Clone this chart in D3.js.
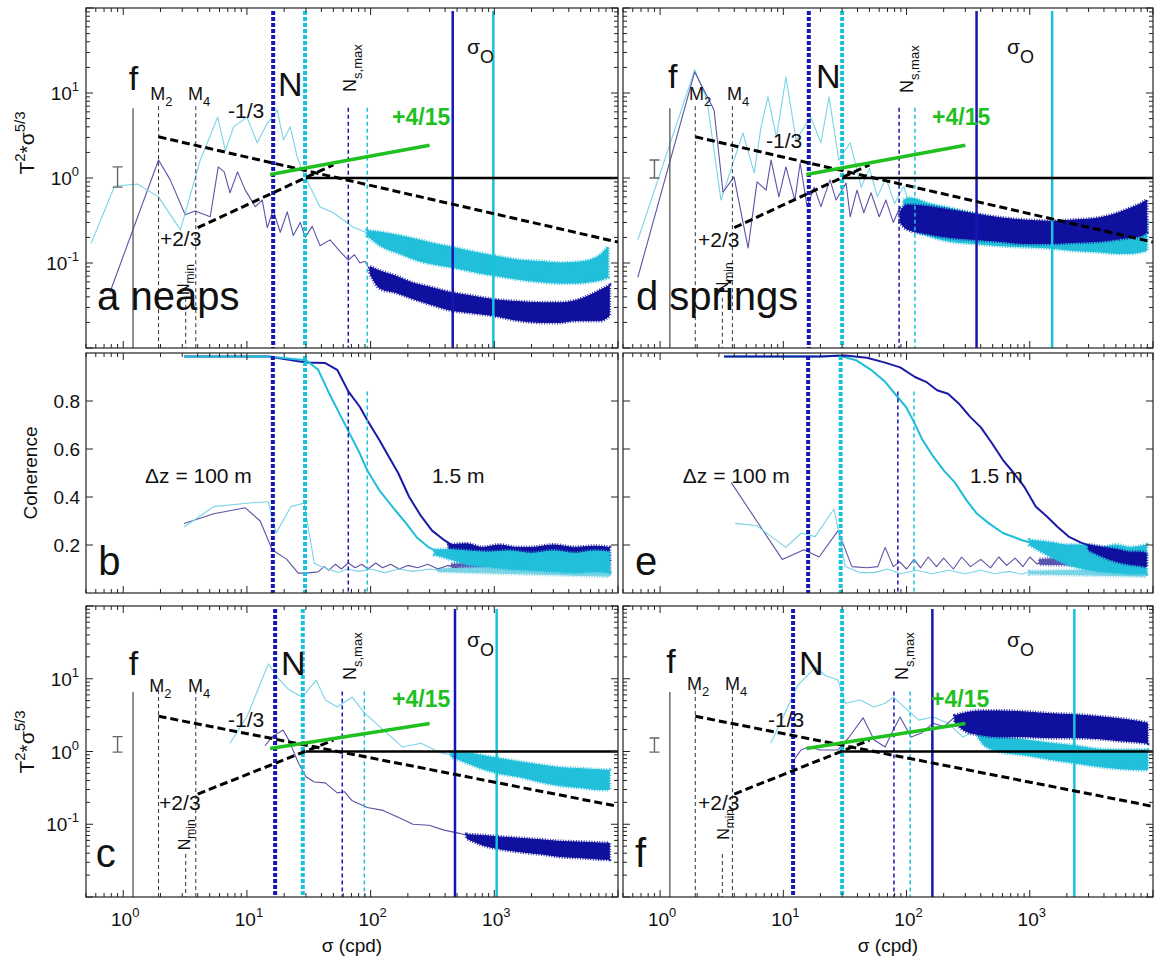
<!DOCTYPE html>
<html><head><meta charset="utf-8">
<script src="https://cdn.jsdelivr.net/npm/d3@7"></script>
<style>body{margin:0;background:#fff}svg{font-family:"Liberation Sans",Arial,sans-serif}</style>
</head><body><svg id="chart" width="1157" height="962"></svg>
<script>
// ---------------- axes / ticks ----------------
const sigmaDomain = [0.5, 10000];
const spectrumDomain = [0.01, 100];
const coherenceDomain = [0, 1];
const sigmaTickValues = [1, 10, 100, 1000];
const sigmaTickExponents = ["0", "1", "2", "3"];
const spectrumTickValues = [10, 1, 0.1];
const spectrumTickExponents = ["1", "0", "-1"];
const coherenceTickValues = [0.2, 0.4, 0.6, 0.8];
const coherenceTickLabels = ["0.2", "0.4", "0.6", "0.8"];

// ---------------- marker frequencies (cpd), panels a..f ----------------
const panelIds = ["a", "b", "c", "d", "e", "f"];
const coriolisFreq = 1.2;
const m2Freq = 1.93;
const m4Freq = 3.86;
const nMinFreq = 3.2;
const nDarkFreq = [16.3, 16.2, 16.9, 16.1, 15.9, 12.0];
const nCyanFreq = [29.5, 29.5, 28.3, 30.0, 29.2, 30.0];
const nsMaxDarkFreq = [66, 66, 59, 87, 85, 79];
const nsMaxCyanFreq = [94, 94, 89, 117, 115, 107];
const sigmaODarkFreq = [461, null, 481, 370, null, 162];
const sigmaOCyanFreq = [982, null, 1045, 1520, null, 2300];
const fLineTop = 6.6, tideLineTop = 7.0, nsLineTop = 6.7, nMinLineTop = 0.039, cohNsLineTop = 0.84;

// ---------------- reference slopes [sigma, value] ----------------
const slopeMinusThird = [[1.93, 3.05], [10000, 0.176]];
const slopePlusTwoThirds = [[4.0, 0.26], [50, 1.43]];
const slopePlusFourFifteenths = [[15.4, 1.1], [300, 2.43]];
const unityLine = [[30, 1], [10000, 1]];
// error bars [sigma, low, high]
const aErr = [0.9, 0.78, 1.35];
const cErr = [0.9, 0.98, 1.6];
const dErr = [0.9, 1.0, 1.63];
const fErr = [0.9, 0.98, 1.53];

// ---------------- panel a (neaps spectra) ----------------
const aDarkThin = [[0.78,0.045],[1.93,1.63],[2.4,0.95],[3.17,0.37],[3.82,0.41],[5.05,0.35],[5.86,1.35],[6.55,1.18],[7.3,0.67],[8.4,1.18],[9.7,0.72],[11.7,0.46],[13.3,0.55],[14.6,0.26],[16.3,0.42],[18.6,0.23],[21.2,0.4],[23.7,0.21],[27,0.3],[29.6,0.2],[33.7,0.27],[39,0.16],[47,0.187],[57,0.135],[66,0.108],[74,0.125],[82,0.1],[90,0.105],[99,0.082],[110,0.07]];
const aDarkBand = [[99,0.075,0.09],[120,0.05,0.08],[160,0.045,0.07],[220,0.038,0.058],[300,0.033,0.052],[440,0.028,0.045],[650,0.026,0.041],[1000,0.024,0.037],[1600,0.021,0.035],[2500,0.02,0.034],[3400,0.02,0.034],[4500,0.021,0.036],[6000,0.021,0.042],[7200,0.021,0.048],[8500,0.024,0.054]];
const aCyanThin = [[0.55,0.17],[0.85,0.8],[1.3,0.85],[1.93,0.6],[2.9,0.245],[4.2,1.63],[5.8,5.2],[6.7,2.1],[7.8,4.0],[10,5.2],[12.1,2.6],[14.6,4.4],[17.6,6.3],[19.7,2.8],[22.4,4.0],[25.5,1.77],[28.5,1.15],[32.5,0.78],[39,0.456],[50,0.39],[60,0.32],[72,0.265],[94,0.225],[110,0.2]];
const aCyanBand = [[94,0.21,0.24],[120,0.16,0.23],[170,0.13,0.21],[252,0.105,0.185],[350,0.095,0.165],[440,0.09,0.155],[600,0.082,0.14],[770,0.076,0.13],[1100,0.07,0.118],[1600,0.064,0.108],[2400,0.06,0.104],[3400,0.058,0.1],[4600,0.058,0.102],[5900,0.06,0.108],[7200,0.063,0.125],[8300,0.068,0.155]];

// ---------------- panel c (neaps spectra, second record) ----------------
const cDarkThin = [[14,1.2],[16,1.6],[19.6,1.97],[22,1.4],[26,0.7],[30,0.45],[35,0.38],[43,0.37],[53.7,0.27],[61.4,0.28],[71,0.21],[94,0.17],[126,0.155],[167,0.125],[220,0.1],[296,0.097],[394,0.083],[522,0.075],[700,0.066]];
const cDarkBand = [[600,0.064,0.072],[800,0.052,0.07],[1100,0.046,0.067],[1600,0.042,0.064],[2400,0.039,0.061],[3400,0.036,0.058],[4600,0.035,0.057],[6000,0.034,0.056],[7500,0.033,0.055],[8500,0.033,0.055]];
const cCyanThin = [[7.3,1.3],[10,3],[14.9,16],[18,10],[22,7],[28,5.6],[36.3,9.6],[43,5.1],[53.7,4.1],[71,5.6],[89,3.4],[126,2.0],[181,1.15],[256,1.3],[366,0.96],[522,0.85]];
const cCyanBand = [[450,0.85,0.95],[600,0.7,0.95],[800,0.58,0.88],[1100,0.5,0.8],[1600,0.45,0.72],[2400,0.38,0.65],[3400,0.34,0.6],[5000,0.32,0.58],[7000,0.3,0.56],[8500,0.3,0.55]];

// ---------------- panel d (springs spectra) ----------------
const dDarkThin = [[0.66,0.068],[1.91,17.7],[2.74,6.3],[3.24,0.68],[3.98,1.03],[5.18,0.15],[6.12,0.9],[7.25,0.72],[7.95,1.63],[9.2,0.6],[10.5,1.35],[12.4,0.55],[13.7,1.5],[15.6,0.46],[17.8,0.78],[20.2,0.46],[23.9,0.95],[26.8,0.55],[32.3,0.87],[34.9,0.35],[39.6,0.72],[45,0.39],[51.5,0.67],[60,0.35],[68,0.55],[78,0.3],[88.7,0.46],[101,0.3]];
const dDarkBand = [[88.7,0.3,0.4],[101,0.25,0.48],[150,0.22,0.46],[226,0.2,0.42],[350,0.19,0.38],[574,0.18,0.34],[900,0.17,0.32],[1460,0.17,0.31],[2300,0.175,0.32],[3700,0.18,0.34],[5000,0.19,0.38],[6500,0.2,0.44],[8000,0.21,0.5],[8900,0.23,0.55]];
const dCyanThin = [[0.66,0.187],[1.91,18.7],[2.4,8.3],[3.12,0.55],[4.7,3.4],[5.8,1.15],[6.6,4],[7.5,9],[8.8,3],[10.5,15.4],[12.7,2.8],[16.7,5.2],[20.2,2.6],[23.5,9],[28.2,1.63],[34.9,2.6],[42.8,0.78],[50,1.3],[58,0.6],[68,1.0],[80,0.5],[95,0.8],[107,0.45]];
const dCyanBand = [[95,0.4,0.55],[107,0.26,0.58],[150,0.21,0.5],[226,0.18,0.44],[350,0.17,0.38],[574,0.16,0.33],[900,0.155,0.3],[1460,0.15,0.28],[2300,0.14,0.27],[3700,0.135,0.26],[5000,0.13,0.26],[6500,0.13,0.27],[8000,0.135,0.3],[8900,0.14,0.33]];

// ---------------- panel f (springs spectra, second record) ----------------
const fDarkThin = [[11.7,0.69],[13.9,1.05],[15.9,1.15],[20,1.05],[27.8,1.05],[34.2,1.58],[44.4,2.9],[54.6,1.44],[67,1.15],[78,1.97],[88.7,2.98],[108.7,1.58],[133,1.8],[164,2.45],[201,2.2],[247,2.98],[303,2.55]];
const fDarkBand = [[247,2.5,3.1],[303,1.9,3.4],[400,1.7,3.6],[574,1.6,3.6],[900,1.6,3.5],[1460,1.55,3.3],[2300,1.55,3.2],[3700,1.5,3.0],[5500,1.4,2.8],[7500,1.35,2.6],[9000,1.3,2.45]];
const fCyanThin = [[7.9,1.3],[10,3],[13,8],[18.3,14.5],[22,11],[27.8,9.6],[31.8,4.6],[41.9,5.1],[54.6,4.1],[67,4.6],[78,5.6],[95.5,4.1],[126,2.7],[164,2.98],[217,2.45],[287,1.58],[373,1.97],[433,1.44]];
const fCyanBand = [[373,1.7,2.0],[433,1.2,1.8],[574,1.0,1.6],[900,0.9,1.45],[1460,0.78,1.3],[2300,0.7,1.2],[3700,0.62,1.07],[5500,0.58,1.05],[9000,0.56,1.05]];

// ---------------- panel b (neaps coherence) ----------------
const bDarkFine = [[3.1,0.985],[15,0.985],[30,0.96],[43,0.958],[53.7,0.93],[66,0.84],[82,0.775],[94,0.72],[117,0.64],[136,0.58],[167,0.5],[205,0.4],[256,0.32],[314,0.26],[394,0.22],[485,0.19]];
const bDarkFineBand = [[430,0.18,0.2],[600,0.155,0.205],[800,0.15,0.19],[1100,0.14,0.2],[1500,0.15,0.19],[2000,0.13,0.19],[3000,0.14,0.2],[4500,0.13,0.19],[6500,0.14,0.195],[8500,0.13,0.19]];
const bCyanFine = [[3.1,0.985],[15,0.985],[30.1,0.97],[37.7,0.93],[46.4,0.83],[61,0.71],[82,0.58],[94,0.51],[117,0.43],[155,0.35],[194,0.29],[238,0.23],[296,0.19],[366,0.165]];
const bCyanFineBand = [[330,0.16,0.18],[450,0.14,0.18],[600,0.12,0.175],[900,0.11,0.17],[1300,0.1,0.175],[2000,0.095,0.165],[3000,0.09,0.175],[4500,0.085,0.165],[6500,0.09,0.175],[8500,0.085,0.17]];
const bDarkCoarse = [[3.1,0.29],[5.4,0.33],[9.7,0.355],[12.8,0.3],[16,0.18],[21,0.14],[26,0.083],[30,0.083],[37.7,0.088],[42,0.11],[46,0.095],[52,0.12],[58,0.1],[66,0.125],[75,0.105],[85,0.12],[95,0.1],[110,0.125],[125,0.105],[145,0.12],[170,0.1],[200,0.115],[240,0.105],[290,0.12],[350,0.1],[420,0.115],[500,0.105]];
const bDarkCoarseBand = [[450,0.1,0.12],[8500,0.09,0.14]];
const bCyanCoarse = [[3.1,0.275],[5.4,0.36],[10.4,0.375],[14.9,0.38],[17.2,0.25],[22.7,0.36],[29,0.375],[35,0.125],[39.7,0.11],[45,0.1],[55,0.085],[65,0.1],[80,0.09],[100,0.1],[130,0.085],[170,0.1],[220,0.09],[300,0.1],[400,0.09]];
const bCyanCoarseBand = [[350,0.09,0.1],[8500,0.07,0.12]];

// ---------------- panel e (springs coherence) ----------------
const eDarkFine = [[3.3,0.985],[20,0.985],[31.8,0.99],[47.7,0.98],[67,0.96],[88.8,0.94],[117,0.9],[144,0.88],[177,0.845],[217,0.83],[265,0.79],[327,0.735],[401,0.69],[492,0.625],[604,0.555],[742,0.5],[910,0.44],[1117,0.36],[1371,0.32],[1683,0.275],[2066,0.235],[2600,0.21],[3400,0.19]];
const eDarkFineBand = [[3000,0.18,0.2],[4000,0.15,0.19],[5200,0.13,0.18],[6500,0.12,0.17],[7800,0.115,0.17],[8800,0.11,0.165]];
const eCyanFine = [[3.3,0.985],[20,0.985],[27.8,0.99],[38.9,0.97],[51.5,0.93],[67,0.88],[82,0.825],[99,0.775],[113,0.72],[134,0.64],[164,0.57],[201,0.51],[247,0.46],[303,0.39],[373,0.33],[466,0.29],[604,0.25],[866,0.22],[1211,0.2]];
const eCyanFineBand = [[1000,0.2,0.22],[1500,0.15,0.21],[2000,0.12,0.2],[2800,0.1,0.2],[3800,0.09,0.19],[5000,0.085,0.2],[6500,0.08,0.19],[8800,0.08,0.2]];
const eDarkCoarse = [[3.78,0.46],[9.8,0.14],[14.7,0.18],[19.5,0.15],[27.8,0.26],[36,0.11],[47.7,0.105],[58.5,0.11],[67,0.19],[78,0.11],[88,0.13],[100,0.1],[115,0.14],[130,0.105],[150,0.15],[175,0.11],[200,0.145],[240,0.1],[280,0.15],[330,0.11],[400,0.14],[480,0.105],[560,0.15],[650,0.115],[760,0.145],[880,0.11],[1000,0.15],[1150,0.12],[1300,0.14]];
const eDarkCoarseBand = [[1200,0.12,0.14],[8800,0.11,0.16]];
const eCyanCoarse = [[4.06,0.29],[6.1,0.28],[10.5,0.19],[14,0.25],[18.1,0.235],[25.8,0.35],[31.8,0.11],[41.9,0.085],[54.6,0.085],[70,0.1],[90,0.08],[120,0.095],[160,0.08],[220,0.095],[300,0.08],[400,0.095],[520,0.08],[680,0.09],[850,0.078],[1050,0.09]];
const eCyanCoarseBand = [[1000,0.08,0.09],[8800,0.07,0.1]];

// ---------------- styling / layout ----------------
const colX = [[86, 618], [623, 1153]];
const rowY = [[8, 348], [353, 593], [606, 897]];
const C = {
  darkThin: "#5e52a6", cyanThin: "#78d4e6", darkBand: "#10109e", cyanBand: "#22bfdb",
  darkLine: "#1616b4", cyanLine: "#18c2da", green: "#1fc01f", frame: "#222", text: "#111"
};
const FONT_BIG = 34;

const svg = d3.select("#chart");
const defs = svg.append("defs");

function richText(parent, x, y, parts, attrs = {}) {
  const t = parent.append("text").attr("x", x).attr("y", y).attr("fill", attrs.fill || C.text);
  if (attrs.anchor) t.attr("text-anchor", attrs.anchor);
  if (attrs.weight) t.attr("font-weight", attrs.weight);
  let cur = 0;
  parts.forEach(p => {
    const off = p.off || 0;
    t.append("tspan").attr("dy", off - cur).attr("font-size", p.size).text(p.t);
    cur = off;
  });
  return t;
}

function logTicks(dom) {
  const out = [];
  for (let e = Math.floor(Math.log10(dom[0])); e <= Math.ceil(Math.log10(dom[1])); e++)
    for (let m = 1; m <= 9; m++) {
      const v = m * Math.pow(10, e);
      if (v >= dom[0] * 0.999 && v <= dom[1] * 1.001) out.push({ v, major: m === 1 });
    }
  return out;
}

function makePanel(idx, col, row, type) {
  const [x0, x1] = colX[col], [y0, y1] = rowY[row];
  const sx = d3.scaleLog().domain(sigmaDomain).range([x0, x1]);
  const sy = type === "spec" ? d3.scaleLog().domain(spectrumDomain).range([y1, y0])
                             : d3.scaleLinear().domain(coherenceDomain).range([y1, y0]);
  const id = panelIds[idx];
  defs.append("clipPath").attr("id", "clip" + id).append("rect")
    .attr("x", x0).attr("y", y0).attr("width", x1 - x0).attr("height", y1 - y0);
  const g = svg.append("g");
  const plot = g.append("g").attr("clip-path", `url(#clip${id})`);
  return { idx, id, col, row, type, x0, x1, y0, y1, sx, sy, g, plot };
}

function lineGen(P) { return d3.line().x(d => P.sx(d[0])).y(d => P.sy(d[1])); }
function areaGen(P) { return d3.area().x(d => P.sx(d[0])).y0(d => P.sy(d[1])).y1(d => P.sy(d[2])).curve(d3.curveMonotoneX); }

function drawThin(P, data, color, width) {
  P.plot.append("path").attr("d", lineGen(P)(data)).attr("fill", "none")
    .attr("stroke", color).attr("stroke-width", width).attr("stroke-linejoin", "round");
}
function drawBand(P, data, color) {
  const d = areaGen(P)(data);
  P.plot.append("path").attr("d", d).attr("fill", color)
    .attr("stroke", color).attr("stroke-width", 1).attr("stroke-linejoin", "round");
  // ragged, speckled rim to imitate the noisy edge of the dense spectra
  P.plot.append("path").attr("d", d).attr("fill", "none")
    .attr("stroke", color).attr("stroke-width", 4).attr("stroke-dasharray", "1,1.6").attr("opacity", 0.85);
}
function vline(P, f, vTop, color, width, dash) {
  if (f == null) return;
  const top = vTop == null ? P.y0 + 3 : P.sy(vTop);
  const l = P.plot.append("line").attr("x1", P.sx(f)).attr("x2", P.sx(f))
    .attr("y1", top).attr("y2", P.y1).attr("stroke", color).attr("stroke-width", width);
  if (dash) l.attr("stroke-dasharray", dash);
}
function refLine(P, data, color, width, dash) {
  const l = P.plot.append("path").attr("d", lineGen(P)(data)).attr("fill", "none")
    .attr("stroke", color).attr("stroke-width", width);
  if (dash) l.attr("stroke-dasharray", dash);
}

function frameAndTicks(P) {
  const g = P.g;
  g.append("rect").attr("x", P.x0).attr("y", P.y0).attr("width", P.x1 - P.x0).attr("height", P.y1 - P.y0)
    .attr("fill", "none").attr("stroke", C.frame).attr("stroke-width", 1.2);
  logTicks(sigmaDomain).forEach(t => {
    const x = P.sx(t.v), L = t.major ? 7 : 4;
    g.append("line").attr("x1", x).attr("x2", x).attr("y1", P.y1).attr("y2", P.y1 - L).attr("stroke", C.frame);
    g.append("line").attr("x1", x).attr("x2", x).attr("y1", P.y0).attr("y2", P.y0 + L).attr("stroke", C.frame);
  });
  const yt = P.type === "spec" ? logTicks(spectrumDomain) : coherenceTickValues.map(v => ({ v, major: true }));
  yt.forEach(t => {
    const y = P.sy(t.v), L = t.major ? 7 : 4;
    g.append("line").attr("x1", P.x0).attr("x2", P.x0 + L).attr("y1", y).attr("y2", y).attr("stroke", C.frame);
    g.append("line").attr("x1", P.x1).attr("x2", P.x1 - L).attr("y1", y).attr("y2", y).attr("stroke", C.frame);
  });
  if (P.col === 0) {
    if (P.type === "spec") {
      spectrumTickValues.forEach((v, i) => {
        richText(g, 79, P.sy(v) + 7, [{ t: "10", size: 19 }, { t: spectrumTickExponents[i], size: 13, off: -9 }], { anchor: "end" });
      });
      const ly = P.row === 0 ? 143 : 742;
      const lg = g.append("g").attr("transform", `translate(34,${ly}) rotate(-90)`);
      richText(lg, 0, 0, [{ t: "T", size: 21 }, { t: "2", size: 15, off: -9 }, { t: "*σ", size: 21 }, { t: "5/3", size: 15, off: -9 }], { anchor: "middle" });
    } else {
      coherenceTickValues.forEach((v, i) => {
        g.append("text").attr("x", 80).attr("y", P.sy(v) + 7).attr("text-anchor", "end")
          .attr("font-size", 19).attr("fill", C.text).text(coherenceTickLabels[i]);
      });
      g.append("text").attr("transform", `translate(37,${(P.y0 + P.y1) / 2}) rotate(-90)`)
        .attr("text-anchor", "middle").attr("font-size", 19).attr("fill", C.text).text("Coherence");
    }
  }
  if (P.row === 2) {
    sigmaTickValues.forEach((v, i) => {
      richText(g, P.sx(v) + 2, 926, [{ t: "10", size: 19 }, { t: sigmaTickExponents[i], size: 13, off: -9 }], { anchor: "middle" });
    });
    g.append("text").attr("x", (P.x0 + P.x1) / 2).attr("y", 952).attr("text-anchor", "middle")
      .attr("font-size", 19).attr("fill", C.text).text("σ (cpd)");
  }
}

// annotation layout (positions in data coordinates of each panel)
const specAnnot = {
  a: { tag: "a neaps", tagPos: [0.614, 0.028], f: [1.11, 10.85], m2: [1.65, 8.27], m4: [3.34, 8.27], n: [17.8, 9.2], ns: [76, 10.3], so: [601, 29], p415: [149, 4.2], m13: [7.03, 5.08], p23: [1.98, 0.158], nmin: [3.4, 0.042] },
  c: { tag: "c", tagPos: [0.6, 0.026], f: [1.11, 11.3], m2: [1.62, 6.58], m4: [3.34, 6.58], n: [18.9, 11.3], ns: [76, 9.6], so: [601, 27], p415: [149, 4.09], m13: [7.03, 2.17], p23: [1.95, 0.157], nmin: [3.47, 0.044] },
  d: { tag: "d springs", tagPos: [0.637, 0.028], f: [1.16, 11.4], m2: [1.72, 8.27], m4: [3.49, 8.27], n: [18.4, 11.4], ns: [113, 10], so: [654, 29], p415: [161, 4.2], m13: [7.24, 2.25], p23: [2.03, 0.154], nmin: [3.55, 0.044] },
  f: { tag: "f", tagPos: [0.626, 0.026], f: [1.12, 12.0], m2: [1.65, 7.0], m4: [3.37, 7.0], n: [13.4, 11.3], ns: [102, 9.6], so: [654, 27], p415: [158, 4.09], m13: [7.5, 2.17], p23: [2.03, 0.157], nmin: [3.63, 0.061] }
};
const cohAnnot = {
  b: { tag: "b", tagPos: [0.627, 0.075], dz: [1.5, 0.458], fine: [313, 0.458] },
  e: { tag: "e", tagPos: [0.626, 0.075], dz: [1.53, 0.458], fine: [328, 0.458] }
};

function drawSpectral(idx, col, row, dark, darkBand, cyan, cyanBand, err, darkOnTop) {
  const P = makePanel(idx, col, row, "spec");
  const A = specAnnot[P.id];
  const drawDark = () => { drawThin(P, dark, C.darkThin, 1.1); drawBand(P, darkBand, C.darkBand); };
  const drawCyan = () => { drawThin(P, cyan, C.cyanThin, 1.1); drawBand(P, cyanBand, C.cyanBand); };
  if (darkOnTop) { drawCyan(); drawDark(); } else { drawDark(); drawCyan(); }
  // vertical markers
  vline(P, coriolisFreq, fLineTop, "#555", 1.3, null);
  vline(P, m2Freq, tideLineTop, "#333", 1, "4,3");
  vline(P, m4Freq, tideLineTop, "#333", 1, "4,3");
  vline(P, nMinFreq, nMinLineTop, "#333", 1, "4,3");
  vline(P, nsMaxDarkFreq[idx], nsLineTop, C.darkLine, 1.5, "4,3");
  vline(P, nsMaxCyanFreq[idx], nsLineTop, C.cyanLine, 1.5, "4,3");
  vline(P, nDarkFreq[idx], null, C.darkLine, 4, "4,2");
  vline(P, nCyanFreq[idx], null, C.cyanLine, 4, "4,2");
  vline(P, sigmaODarkFreq[idx], null, C.darkLine, 2.5, null);
  vline(P, sigmaOCyanFreq[idx], null, C.cyanLine, 2.5, null);
  // reference slopes
  refLine(P, unityLine, "#000", 2.5, null);
  refLine(P, slopeMinusThird, "#000", 3, "8,4");
  refLine(P, slopePlusTwoThirds, "#000", 3, "8,4");
  refLine(P, slopePlusFourFifteenths, C.green, 3.5, null);
  // error bar
  const ex = P.sx(err[0]), ey0 = P.sy(err[1]), ey1 = P.sy(err[2]);
  P.plot.append("path").attr("d", `M${ex - 5},${ey1}H${ex + 5}M${ex},${ey1}V${ey0}M${ex - 5},${ey0}H${ex + 5}`)
    .attr("stroke", "#666").attr("stroke-width", 1.4).attr("fill", "none");
  // labels
  const g = P.g, px = p => P.sx(p[0]), py = p => P.sy(p[1]);
  richText(g, px(A.f), py(A.f), [{ t: "f", size: FONT_BIG }]);
  richText(g, px(A.m2), py(A.m2), [{ t: "M", size: 18 }, { t: "2", size: 13, off: 6 }]);
  richText(g, px(A.m4), py(A.m4), [{ t: "M", size: 18 }, { t: "4", size: 13, off: 6 }]);
  richText(g, px(A.n), py(A.n), [{ t: "N", size: FONT_BIG }]);
  const nsG = g.append("g").attr("transform", `translate(${px(A.ns)},${py(A.ns)}) rotate(-90)`);
  richText(nsG, 0, 0, [{ t: "N", size: 18 }, { t: "s,max", size: 13, off: 6 }]);
  const nmG = g.append("g").attr("transform", `translate(${px(A.nmin)},${py(A.nmin)}) rotate(-90)`);
  richText(nmG, 0, 0, [{ t: "N", size: 16 }, { t: "min", size: 12, off: 5 }]);
  richText(g, px(A.so), py(A.so), [{ t: "σ", size: 21 }, { t: "O", size: 18, off: 9 }]);
  richText(g, px(A.p415), py(A.p415), [{ t: "+4/15", size: 23 }], { fill: C.green, weight: "bold" });
  richText(g, px(A.m13), py(A.m13), [{ t: "-1/3", size: 21 }]);
  richText(g, px(A.p23), py(A.p23), [{ t: "+2/3", size: 21 }]);
  richText(g, px(A.tagPos), py(A.tagPos), [{ t: A.tag, size: 40 }]);
  frameAndTicks(P);
}

function drawCoherence(idx, col, row, S, darkOnTop) {
  const P = makePanel(idx, col, row, "coh");
  const A = cohAnnot[P.id];
  drawBand(P, S.darkCoarseBand, "#5a55b0");
  drawBand(P, S.cyanCoarseBand, "#7ad4e6");
  drawThin(P, S.darkCoarse, C.darkThin, 1.1);
  drawThin(P, S.cyanCoarse, C.cyanThin, 1.1);
  const fineDark = () => { drawThin(P, S.darkFine, "#1a1aa8", 2); drawBand(P, S.darkFineBand, C.darkBand); };
  const fineCyan = () => { drawThin(P, S.cyanFine, "#1fbdd8", 2); drawBand(P, S.cyanFineBand, C.cyanBand); };
  if (darkOnTop) { fineCyan(); fineDark(); } else { fineDark(); fineCyan(); }
  vline(P, nsMaxDarkFreq[idx], cohNsLineTop, C.darkLine, 1.5, "4,3");
  vline(P, nsMaxCyanFreq[idx], cohNsLineTop, C.cyanLine, 1.5, "4,3");
  vline(P, nDarkFreq[idx], null, C.darkLine, 4, "4,2");
  vline(P, nCyanFreq[idx], null, C.cyanLine, 4, "4,2");
  const g = P.g, px = p => P.sx(p[0]), py = p => P.sy(p[1]);
  richText(g, px(A.dz), py(A.dz), [{ t: "Δz = 100 m", size: 21 }]);
  richText(g, px(A.fine), py(A.fine), [{ t: "1.5 m", size: 21 }]);
  richText(g, px(A.tagPos), py(A.tagPos), [{ t: A.tag, size: 40 }]);
  frameAndTicks(P);
}

drawSpectral(0, 0, 0, aDarkThin, aDarkBand, aCyanThin, aCyanBand, aErr, false);
drawCoherence(1, 0, 1, { darkFine: bDarkFine, darkFineBand: bDarkFineBand, cyanFine: bCyanFine, cyanFineBand: bCyanFineBand,
  darkCoarse: bDarkCoarse, darkCoarseBand: bDarkCoarseBand, cyanCoarse: bCyanCoarse, cyanCoarseBand: bCyanCoarseBand }, false);
drawSpectral(2, 0, 2, cDarkThin, cDarkBand, cCyanThin, cCyanBand, cErr, false);
drawSpectral(3, 1, 0, dDarkThin, dDarkBand, dCyanThin, dCyanBand, dErr, true);
drawCoherence(4, 1, 1, { darkFine: eDarkFine, darkFineBand: eDarkFineBand, cyanFine: eCyanFine, cyanFineBand: eCyanFineBand,
  darkCoarse: eDarkCoarse, darkCoarseBand: eDarkCoarseBand, cyanCoarse: eCyanCoarse, cyanCoarseBand: eCyanCoarseBand }, true);
drawSpectral(5, 1, 2, fDarkThin, fDarkBand, fCyanThin, fCyanBand, fErr, true);
</script></body></html>
